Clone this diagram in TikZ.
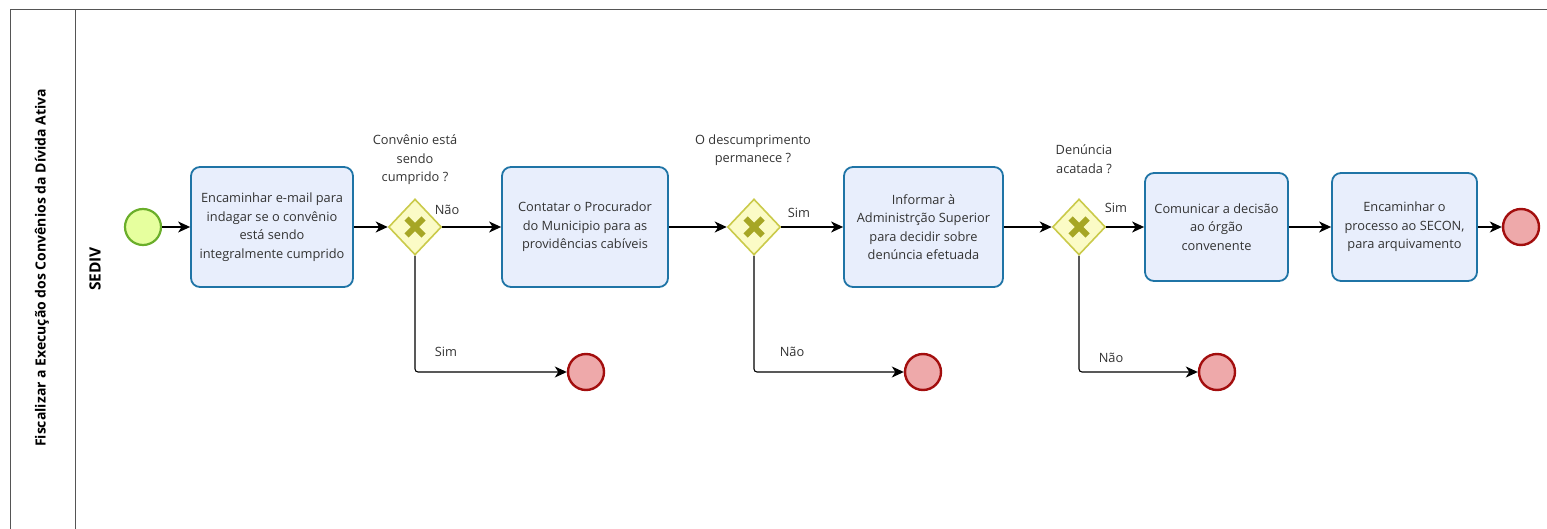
\documentclass[tikz,border=0pt]{standalone}
\usepackage{fontspec}
\setmainfont{Open Sans}
\usetikzlibrary{arrows.meta,shapes.geometric}
\definecolor{taskfill}{HTML}{E8EEFC}
\definecolor{taskdraw}{HTML}{1F74A6}
\definecolor{gwfill}{HTML}{FBFBC6}
\definecolor{gwdraw}{HTML}{CACA4A}
\definecolor{gwx}{HTML}{A6A625}
\definecolor{startfill}{HTML}{E6FF9E}
\definecolor{startdraw}{HTML}{6AAE2A}
\definecolor{endfill}{HTML}{EEA9AA}
\definecolor{enddraw}{HTML}{A30E0E}
\definecolor{txt}{HTML}{333333}
\definecolor{frame}{HTML}{555555}
\begin{document}
\begin{tikzpicture}[x=1pt,y=-1pt,
  taskbox/.style={draw=taskdraw,fill=taskfill,rounded corners=9pt,line width=1.8pt,
    align=center,text=txt,inner sep=0pt,font=\fontsize{12.8}{18.5}\selectfont},
  gateway/.style={diamond,draw=gwdraw,fill=gwfill,line width=1.6pt,inner sep=0pt,
    minimum width=53pt,minimum height=56pt},
  startev/.style={circle,draw=startdraw,fill=startfill,line width=2.2pt,minimum size=36pt,inner sep=0pt},
  endev/.style={circle,draw=enddraw,fill=endfill,line width=2.4pt,minimum size=36pt,inner sep=0pt},
  lbl/.style={text=txt,font=\fontsize{12.8}{18.5}\selectfont,align=center,inner sep=0pt},
  flow/.style={draw=black,line width=1.1pt,-{Stealth[length=12pt,width=11pt,inset=3.5pt]}},
  downflow/.style={flow,rounded corners=3pt}]
\useasboundingbox (0,0) rectangle (1547,529);
% pool frame
\draw[frame,line width=1pt] (10,540) -- (10,10) -- (1547,10);
\draw[frame,line width=1pt] (75,10) -- (75,540);
\node[rotate=90,text=black,font=\fontsize{14}{16}\selectfont\bfseries,inner sep=0pt] (pool) at (42,268) {Fiscalizar a Execução dos Convênios da Dívida Ativa};
\node[rotate=90,text=black,font=\fontsize{15.5}{18}\selectfont\bfseries,inner sep=0pt] (lane) at (95,269) {SEDIV};
% nodes
\node[startev] (s) at (143,227) {};
\node[taskbox,minimum width=162pt,minimum height=120pt] (t1) at (272,227) {Encaminhar e-mail para\\indagar se o convênio\\está sendo\\integralmente cumprido};
\node[gateway] (g1) at (415,227) {};
\node[taskbox,minimum width=166pt,minimum height=120pt] (t2) at (585,227) {Contatar o Procurador\\do Municipio para as\\providências cabíveis};
\node[gateway] (g2) at (754,227) {};
\node[taskbox,minimum width=159pt,minimum height=120pt] (t3) at (923.5,227) {Informar à\\Administrção Superior\\para decidir sobre\\denúncia efetuada};
\node[gateway] (g3) at (1079,227) {};
\node[taskbox,minimum width=143pt,minimum height=108pt] (t4) at (1216.5,227) {Comunicar a decisão\\ao órgão\\convenente};
\node[taskbox,minimum width=145pt,minimum height=108pt] (t5) at (1404.5,227) {Encaminhar o\\processo ao SECON,\\para arquivamento};
\node[endev] (e1) at (1521,227) {};
\node[endev] (e2) at (586,372) {};
\node[endev] (e3) at (923,372) {};
\node[endev] (e4) at (1217,372) {};
\foreach \g in {g1,g2,g3}{
  \draw[gwx,line width=6pt] ([shift={(-8.5,-8.5)}]\g.center) -- ([shift={(8.5,8.5)}]\g.center);
  \draw[gwx,line width=6pt] ([shift={(-8.5,8.5)}]\g.center) -- ([shift={(8.5,-8.5)}]\g.center);
}
% gateway questions
\node[lbl] (q1) at (415,160) {Convênio está\\sendo\\cumprido ?};
\node[lbl] (q2) at (753,150) {O descumprimento\\permanece ?};
\node[lbl] (q3) at (1084,159) {Denúncia\\acatada ?};
% flows
\draw[flow] (s) -- (t1);
\draw[flow] (t1) -- (g1);
\draw[flow] (g1) -- (t2);
\draw[flow] (t2) -- (g2);
\draw[flow] (g2) -- (t3);
\draw[flow] (t3) -- (g3);
\draw[flow] (g3) -- (t4);
\draw[flow] (t4) -- (t5);
\draw[flow] (t5) -- (e1);
\draw[downflow] (g1.south) |- (e2);
\draw[downflow] (g2.south) |- (e3);
\draw[downflow] (g3.south) |- (e4);
% branch labels
\node[lbl] (l1) at (447,210) {Não};
\node[lbl] (l2) at (799,213) {Sim};
\node[lbl] (l3) at (1116,208) {Sim};
\node[lbl] (l4) at (446,352) {Sim};
\node[lbl] (l5) at (792,352) {Não};
\node[lbl] (l6) at (1111,358) {Não};
\end{tikzpicture}
\end{document}
